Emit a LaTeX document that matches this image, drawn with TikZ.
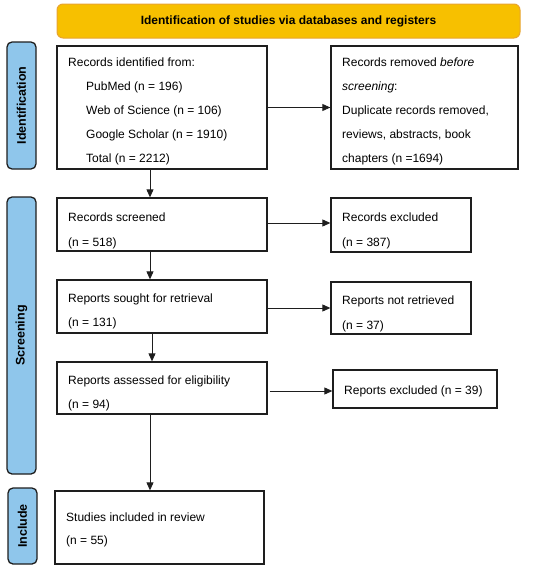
\documentclass[tikz,border=0pt]{standalone}
\usepackage{fontspec}
\setmainfont{Liberation Sans}
\usetikzlibrary{arrows.meta,positioning,calc}
\definecolor{bannerfill}{HTML}{F7C000}
\definecolor{bannerline}{HTML}{E8A430}
\definecolor{phasefill}{HTML}{8FC6EB}
\definecolor{boxline}{HTML}{1E1E1E}
\tikzset{
  flowbox/.style={draw=boxline, line width=1.3pt, fill=white, inner sep=0pt},
  boxtext/.style={anchor=base west, align=left, inner sep=0pt, font=\fontsize{12}{24}\selectfont},
  phase/.style={draw=boxline, line width=1.3pt, fill=phasefill, rounded corners=5pt, inner sep=0pt},
  phasetext/.style={rotate=90, font=\fontsize{12.5}{14}\selectfont\bfseries, inner sep=0pt},
  banner/.style={draw=bannerline, line width=1pt, fill=bannerfill, rounded corners=6pt, inner sep=0pt},
  flowarrow/.style={draw=boxline, line width=0.9pt, -{Triangle[length=8pt,width=7pt]}},
}
\begin{document}
\begin{tikzpicture}[x=1pt,y=-1pt]
\useasboundingbox (0,0) rectangle (550,573);
% banner
\node[banner, minimum width=463pt, minimum height=34pt] (ban) at (288.5,21) {};
\node[font=\fontsize{12}{14}\selectfont\bfseries, inner sep=0pt] (bantext) at (ban.center) {Identification of studies via databases and registers};
% phase labels
\node[phase, minimum width=29pt, minimum height=127pt] (ph1) at (21.5,105.5) {};
\node[phasetext] (ph1t) at (ph1.center) {Identification};
\node[phase, minimum width=29pt, minimum height=277pt] (ph2) at (21.5,335.5) {};
\node[phasetext] (ph2t) at (ph2.center) {Screening};
\node[phase, minimum width=29pt, minimum height=76pt] (ph3) at (22.5,526) {};
\node[phasetext] (ph3t) at (ph3.center) {Include};
% boxes
\node[flowbox, minimum width=210pt, minimum height=123pt] (b1) at (162,107.5) {};
\node[flowbox, minimum width=187pt, minimum height=123pt] (b2) at (424.5,107.5) {};
\node[flowbox, minimum width=210pt, minimum height=53pt] (b3) at (162,224.5) {};
\node[flowbox, minimum width=140pt, minimum height=54pt] (b4) at (401,225) {};
\node[flowbox, minimum width=210pt, minimum height=53pt] (b5) at (162,306.5) {};
\node[flowbox, minimum width=140pt, minimum height=52pt] (b6) at (401,308) {};
\node[flowbox, minimum width=210pt, minimum height=52pt] (b7) at (162,388) {};
\node[flowbox, minimum width=164pt, minimum height=38pt] (b8) at (415,389) {};
\node[flowbox, minimum width=209pt, minimum height=73pt] (b9) at (159.5,527.5) {};
% texts (anchor = baseline of last line)
\node[boxtext] (t1) at (68,162) {Records identified from:\\
\hspace*{18pt}PubMed (n = 196)\\
\hspace*{18pt}Web of Science (n = 106)\\
\hspace*{18pt}Google Scholar (n = 1910)\\
\hspace*{18pt}Total (n = 2212)};
\node[boxtext] (t2) at (342,162) {Records removed \textit{before}\\
\textit{screening}:\\
Duplicate records removed,\\
reviews, abstracts, book\\
chapters (n =1694)};
\node[boxtext, font=\fontsize{12}{25}\selectfont] (t3) at (68,246) {Records screened\\(n = 518)};
\node[boxtext, font=\fontsize{12}{25}\selectfont] (t4) at (342,246) {Records excluded\\(n = 387)};
\node[boxtext] (t5) at (68,326) {Reports sought for retrieval\\(n = 131)};
\node[boxtext, font=\fontsize{12}{25}\selectfont] (t6) at (342,329) {Reports not retrieved\\(n = 37)};
\node[boxtext] (t7) at (68,408) {Reports assessed for eligibility\\(n = 94)};
\node[boxtext] (t8) at (344,394) {Reports excluded (n = 39)};
\node[boxtext, font=\fontsize{12}{23}\selectfont] (t9) at (66,544) {Studies included in review\\(n = 55)};
% arrows
\draw[flowarrow] (b1.east) -- (b2.west);
\draw[flowarrow] (b3.east |- 0,223) -- (b4.west |- 0,223);
\draw[flowarrow] (b5.east |- 0,308) -- (b6.west |- 0,308);
\draw[flowarrow] ([xshift=2pt]b7.east |- 0,391) -- (b8.west |- 0,391);
\draw[flowarrow] (b1.south -| 150,0) -- (b3.north -| 150,0);
\draw[flowarrow] (b3.south -| 150,0) -- (b5.north -| 150,0);
\draw[flowarrow] (b5.south -| 152,0) -- (b7.north -| 152,0);
\draw[flowarrow] (b7.south -| 150,0) -- (b9.north -| 150,0);
\end{tikzpicture}
\end{document}
